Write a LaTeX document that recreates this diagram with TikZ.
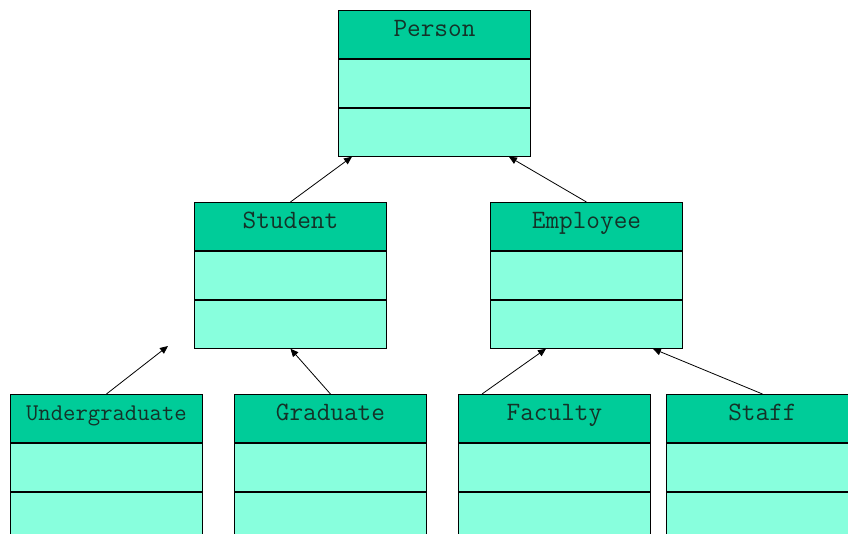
\documentclass[tikz,border=0pt]{standalone}
\usetikzlibrary{arrows.meta,calc}
\definecolor{hdr}{RGB}{0,204,153}
\definecolor{bdy}{RGB}{136,255,221}
\definecolor{txt}{RGB}{20,50,40}
\tikzset{
  hdrbox/.style={draw=black,line width=0.9pt,fill=hdr,minimum width=192pt,minimum height=48pt,inner sep=0pt,anchor=north west,text height=14pt,text depth=10pt,font=\ttfamily\fontsize{26.5}{26.5}\selectfont,text=txt},
  bdybox/.style={draw=black,line width=0.9pt,fill=bdy,minimum width=192pt,minimum height=48pt,inner sep=0pt,anchor=north west},
  inh/.style={draw=black,line width=0.8pt,-{Triangle[length=8pt,width=7pt]}}
}
\newcommand\umlclass[4]{%
  \node[hdrbox] (#1) at (#2,#3) {#4};
  \node[bdybox] (#1-a) at (#1.south west) {};
  \node[bdybox] (#1-b) at (#1-a.south west) {};
}
\begin{document}
\begin{tikzpicture}[x=1pt,y=-1pt]
\useasboundingbox (0,0) rectangle (848,533);
\clip (0,0) rectangle (848,533);
\umlclass{person}{338}{10}{Person}
\umlclass{student}{194}{202}{Student}
\umlclass{employee}{490}{202}{Employee}
\node[hdrbox,font=\ttfamily\fontsize{24}{24}\selectfont] (under) at (10,394) {Undergraduate};
\node[bdybox] (under-a) at (under.south west) {};
\node[bdybox] (under-b) at (under-a.south west) {};
\umlclass{grad}{234}{394}{Graduate}
\umlclass{faculty}{458}{394}{Faculty}
\umlclass{staff}{666}{394}{Staff}
\coordinate (free) at (168,346);
\draw[inh] (student.north) -- ($(person-b.south west)+(14,0)$);
\draw[inh] (employee.north) -- ($(person-b.south east)+(-22,0)$);
\draw[inh] (under.north) -- (free);
\draw[inh] (grad.north) -- (student-b.south);
\draw[inh] ($(faculty.north west)+(24,0)$) -- ($(employee-b.south west)+(56,0)$);
\draw[inh] (staff.north) -- ($(employee-b.south east)+(-30,0)$);
\end{tikzpicture}
\end{document}
